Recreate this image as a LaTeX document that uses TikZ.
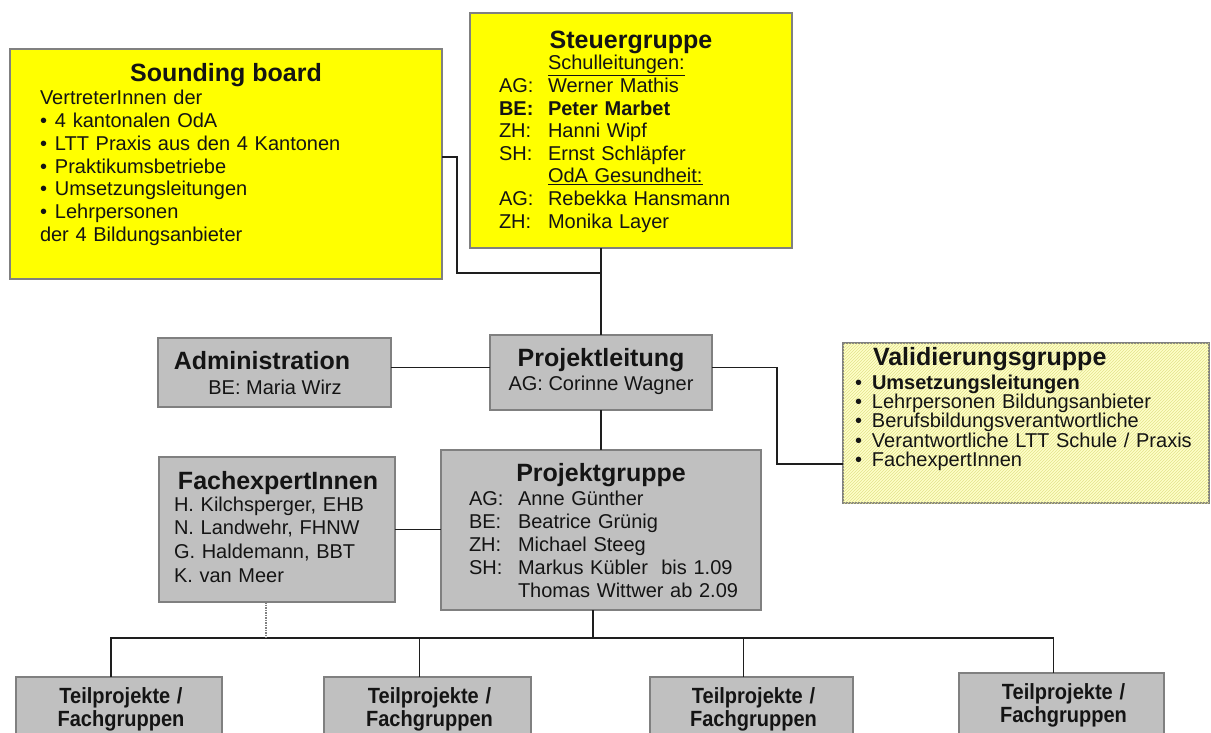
\documentclass[tikz,border=0pt]{standalone}
\usepackage{fontspec}
\usepackage{graphicx}
\setmainfont{Liberation Sans}
\usetikzlibrary{patterns}
\definecolor{boxyellow}{RGB}{255,255,0}
\definecolor{boxgray}{RGB}{192,192,192}
\definecolor{bordergray}{RGB}{128,128,128}
\definecolor{valfill}{RGB}{255,255,200}
\definecolor{hatchcol}{RGB}{226,226,140}
\definecolor{linecol}{RGB}{30,30,30}
\definecolor{txtcol}{RGB}{20,20,20}
\newcommand{\sbul}{\makebox[15pt][l]{•}}
\newcommand{\vbul}{\makebox[17pt][l]{•}}
\newcommand{\nar}[1]{\scalebox{0.91}[1]{#1}}
\begin{document}
\begin{tikzpicture}[x=1pt,y=-1pt,
  boxbase/.style={draw=bordergray, line width=1.5pt, inner sep=0pt, outer sep=0pt, anchor=north west},
  ybox/.style={boxbase, fill=boxyellow},
  gbox/.style={boxbase, fill=boxgray},
  valbox/.style={boxbase, fill=valfill, postaction={pattern=north east lines, pattern color=hatchcol}},
  conn/.style={draw=linecol, line width=1.8pt},
  txt/.style={inner sep=0pt, outer sep=0pt, text=txtcol, font=\fontsize{20}{22.7}\selectfont},
  ttl/.style={inner sep=0pt, outer sep=0pt, text=txtcol, font=\bfseries\fontsize{25}{28}\selectfont},
  teil/.style={inner sep=0pt, outer sep=0pt, text=txtcol, text width=200pt, align=center, anchor=base, font=\bfseries\fontsize{22}{23}\selectfont}
]
\path[use as bounding box] (0,0) rectangle (1211,733);
\clip (0,0) rectangle (1211,733);

% ---------- boxes ----------
\node[ybox, minimum width=432pt, minimum height=230pt] (sb) at (10,49) {};
\node[ybox, minimum width=322pt, minimum height=235pt] (sg) at (470,13) {};
\node[gbox, minimum width=233pt, minimum height=69pt] (adm) at (158,338) {};
\node[gbox, minimum width=222pt, minimum height=75pt] (pl) at (490,335) {};
\node[valbox, minimum width=366pt, minimum height=160pt] (val) at (843,343) {};
\node[gbox, minimum width=236pt, minimum height=145pt] (fe) at (159,457) {};
\node[gbox, minimum width=320pt, minimum height=160pt] (pg) at (441,450) {};
\node[gbox, minimum width=206pt, minimum height=70pt] (t1) at (16,677) {};
\node[gbox, minimum width=207pt, minimum height=70pt] (t2) at (324,677) {};
\node[gbox, minimum width=203pt, minimum height=70pt] (t3) at (650,677) {};
\node[gbox, minimum width=205pt, minimum height=74pt] (t4) at (959,673) {};

% ---------- connectors ----------
\coordinate (j1) at (457,273);
\coordinate (j2) at (601,273);
\coordinate (j3) at (777,464);
\coordinate (busy) at (0,638);
\draw[conn] ([yshift=7pt]sb.east) -| (j1) -- (j2);
\draw[conn] (sg.south -| pl.north) -- (pl.north);
\draw[conn] ([yshift=5pt]adm.east) -- ([yshift=5pt]pl.west);
\draw[conn] ([yshift=5pt]pl.east) -| (j3) -- (val.west |- j3);
\draw[conn] (pl.south) -- (pg.north);
\draw[conn] (fe.east) -- (pg.west |- fe.east);
\draw[conn] ([xshift=-8pt]t1.north) |- ([xshift=-8pt]t4.north |- busy) -- ([xshift=-8pt]t4.north);
\draw[conn] ([xshift=-8pt]t2.north) -- ([xshift=-8pt]t2.north |- busy);
\draw[conn] ([xshift=-8pt]t3.north) -- ([xshift=-8pt]t3.north |- busy);
\draw[conn] ([xshift=-8pt]pg.south) -- ([xshift=-8pt]pg.south |- busy);
\draw[draw=bordergray, line width=1.5pt, densely dotted] ([xshift=-11pt]fe.south) -- ([xshift=-11pt]fe.south |- busy);

% ---------- Sounding board ----------
\node[ttl, anchor=base] (sbT) at (226,82) {Sounding board};
\node[txt, anchor=base west, text width=390pt, align=left] (sbB) at (40,105)
  {VertreterInnen der\\\sbul 4 kantonalen OdA\\\sbul LTT Praxis aus den 4 Kantonen\\\sbul Praktikumsbetriebe\\\sbul Umsetzungsleitungen\\\sbul Lehrpersonen\\der 4 Bildungsanbieter};

% ---------- Steuergruppe ----------
\node[ttl, anchor=base] (sgT) at (631,49) {Steuergruppe};
\node[txt, anchor=base west, text width=45pt, align=left, font=\fontsize{20}{22.6}\selectfont] (sgL) at (499,70)
  {\mbox{}\\AG:\\\textbf{BE:}\\ZH:\\SH:\\\mbox{}\\AG:\\ZH:};
\node[txt, anchor=base west, text width=240pt, align=left, font=\fontsize{20}{22.6}\selectfont] (sgN) at (548,70)
  {\underline{Schulleitungen:}\\Werner Mathis\\\textbf{Peter Marbet}\\Hanni Wipf\\Ernst Schläpfer\\\underline{OdA Gesundheit:}\\Rebekka Hansmann\\Monika Layer};

% ---------- Administration / Projektleitung ----------
\node[ttl, anchor=base] (admT) at (262,369) {Administration};
\node[txt, anchor=base] (admS) at (275,394) {BE: Maria Wirz};
\node[ttl, anchor=base] (plT) at (601,366) {Projektleitung};
\node[txt, anchor=base] (plS) at (601,390) {AG: Corinne Wagner};

% ---------- Validierungsgruppe ----------
\node[ttl, anchor=base west] (valT) at (873,365) {Validierungsgruppe};
\node[txt, anchor=base west, text width=350pt, align=left, font=\fontsize{20}{19.4}\selectfont] (valB) at (855,389)
  {\vbul\textbf{Umsetzungsleitungen}\\\vbul Lehrpersonen Bildungsanbieter\\\vbul Berufsbildungsverantwortliche\\\vbul Verantwortliche LTT Schule / Praxis\\\vbul FachexpertInnen};

% ---------- FachexpertInnen ----------
\node[ttl, anchor=base] (feT) at (278,489) {FachexpertInnen};
\node[txt, anchor=base west, text width=220pt, align=left, font=\fontsize{20}{23.7}\selectfont] (feB) at (174,511)
  {H. Kilchsperger, EHB\\N. Landwehr, FHNW\\G. Haldemann, BBT\\K. van Meer};

% ---------- Projektgruppe ----------
\node[ttl, anchor=base] (pgT) at (601,481) {Projektgruppe};
\node[txt, anchor=base west, text width=45pt, align=left, font=\fontsize{20}{23}\selectfont] (pgL) at (469,505)
  {AG:\\BE:\\ZH:\\SH:};
\node[txt, anchor=base west, text width=240pt, align=left, font=\fontsize{20}{23}\selectfont] (pgN) at (518,505)
  {Anne Günther\\Beatrice Grünig\\Michael Steeg\\Markus Kübler\ \ bis 1.09\\Thomas Wittwer ab 2.09};

% ---------- Teilprojekte ----------
\node[teil] (t1T) at ([xshift=2pt]t1.north |- 0,703) {\nar{Teilprojekte /}\\\nar{Fachgruppen}};
\node[teil] (t2T) at ([xshift=2pt]t2.north |- 0,703) {\nar{Teilprojekte /}\\\nar{Fachgruppen}};
\node[teil] (t3T) at ([xshift=2pt]t3.north |- 0,703) {\nar{Teilprojekte /}\\\nar{Fachgruppen}};
\node[teil] (t4T) at ([xshift=2pt]t4.north |- 0,699) {\nar{Teilprojekte /}\\\nar{Fachgruppen}};
\end{tikzpicture}
\end{document}
